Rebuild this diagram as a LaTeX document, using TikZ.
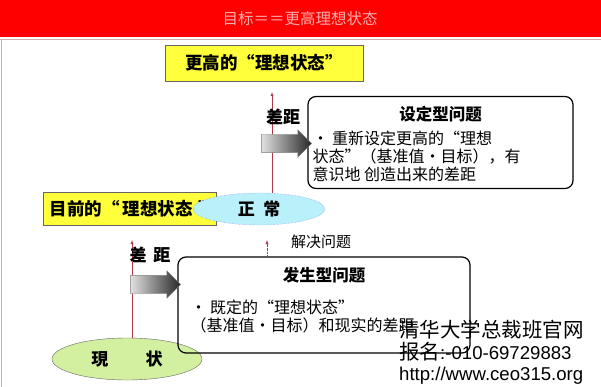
\documentclass[tikz,border=0pt]{standalone}
\usepackage{fontspec}
\setmainfont{Noto Sans CJK SC}
\newfontfamily\marklatin{Liberation Sans}
\usetikzlibrary{shapes.geometric,shapes.arrows}
\definecolor{banner}{RGB}{255,0,0}
\definecolor{bannertext}{RGB}{250,175,175}
\definecolor{rimpink}{RGB}{215,170,175}
\definecolor{goalyellow}{RGB}{255,255,60}
\definecolor{gapred}{RGB}{175,55,70}
\definecolor{normalcyan}{RGB}{185,240,250}
\definecolor{nowgreen}{RGB}{210,240,160}
\begin{document}
\begin{tikzpicture}[x=1pt, y=-1pt,
    goalbox/.style={draw=black!60, fill=goalyellow, inner sep=0pt, font=\bfseries\fontsize{17.5}{17.5}\selectfont},
    probbox/.style={draw, very thick, rounded corners=8pt, inner sep=0pt},
    boxtitle/.style={font=\bfseries\fontsize{16.5}{16.5}\selectfont},
    boxbody/.style={align=left, inner sep=0pt, font=\fontsize{16}{18}\selectfont},
    stateell/.style={ellipse, inner sep=0pt, font=\bfseries\fontsize{17}{17}\selectfont},
    gaparrow/.style={single arrow, single arrow head extend=4.5pt, single arrow head indent=0pt,
      inner ysep=9pt, inner xsep=0pt, minimum height=50pt, left color=black!12, right color=black!85, draw=black!50},
    gapline/.style={draw=gapred, -latex},
    gaplabel/.style={font=\bfseries\fontsize{17}{17}\selectfont}]
  \useasboundingbox (0,0) rectangle (601,387);
  % banner with title
  \fill[banner] (0,0) rectangle (601,37);
  \draw[rimpink] (0,39.5) -- (601,39.5);
  \draw[rimpink, line width=1.5pt] (1.5,39.5) -- (1.5,387);
  \node[text=bannertext, font=\fontsize{15.5}{15.5}\selectfont] (title) at (300,19) {目标＝＝更高理想状态};
  % ideal states
  \node[goalbox, minimum width=198pt, minimum height=36pt] (higher) at (264,63) {更高的“理想状态”};
  \node[goalbox, minimum width=173pt, minimum height=33pt] (current) at (129.5,209) {\makebox[160pt][l]{目前的“\hspace{0.2em}理想状态\hspace{0.3em}”}};
  % states
  \node[stateell, draw=blue!50, densely dotted, fill=normalcyan, minimum width=132pt, minimum height=32pt] (normal) at (259,209) {正\hspace{0.5em}常};
  \node[stateell, draw=black!60, fill=nowgreen, minimum width=150pt, minimum height=42pt] (now) at (127,359) {現\hspace{2.2em}状};
  % problem boxes
  \node[probbox, fill=white, minimum width=265pt, minimum height=92pt] (setprob) at (440.5,142.5) {};
  \node[boxtitle] (settitle) at ([yshift=-18pt]setprob.north) {设定型问题};
  \node[boxbody, anchor=north west] (setbody) at ([xshift=5pt,yshift=-35pt]setprob.north west)
    {· 重新设定更高的“理想\\状态”（基准值·目标），有\\意识地 创造出来的差距};
  \node[probbox, minimum width=292pt, minimum height=96pt] (occprob) at (324,305) {};
  \node[boxtitle] (occtitle) at ([yshift=-19pt]occprob.north) {发生型问题};
  \node[boxbody, anchor=north west] (occbody) at ([xshift=13pt,yshift=-43pt]occprob.north west)
    {· 既定的“理想状态”\\（基准值·目标）和现实的差距};
  % gaps
  \coordinate (uptip) at (272,92);
  \coordinate (lowtip) at (132,240);
  \coordinate (fixtip) at (267,240);
  \draw[gapline] (uptip |- normal.north) -- (uptip);
  \draw[gapline] (lowtip |- now.north) -- (lowtip);
  \draw[gapline, densely dotted] (fixtip |- occprob.north) -- (fixtip);
  \node[gaplabel] (upgap) at (283,117) {差距};
  \node[gaplabel] (lowgap) at (150,255) {差\hspace{0.4em}距};
  \node[font=\fontsize{15}{15}\selectfont] (fix) at (321,242) {解决问题};
  \node[gaparrow] (uparrow) at (282,143.5) {};
  \node[gaparrow] (lowarrow) at (151,284.5) {};
  % watermark
  \node[anchor=north west, align=left, inner sep=0pt, font=\fontsize{20.5}{21.5}\selectfont] (mark) at (399,320)
    {清华大学总裁班官网\\报名{\marklatin\fontsize{18.6}{21.5}\selectfont :-010-69729883}\\{\marklatin\fontsize{18.6}{21.5}\selectfont http://www.ceo315.org}};
\end{tikzpicture}
\end{document}
